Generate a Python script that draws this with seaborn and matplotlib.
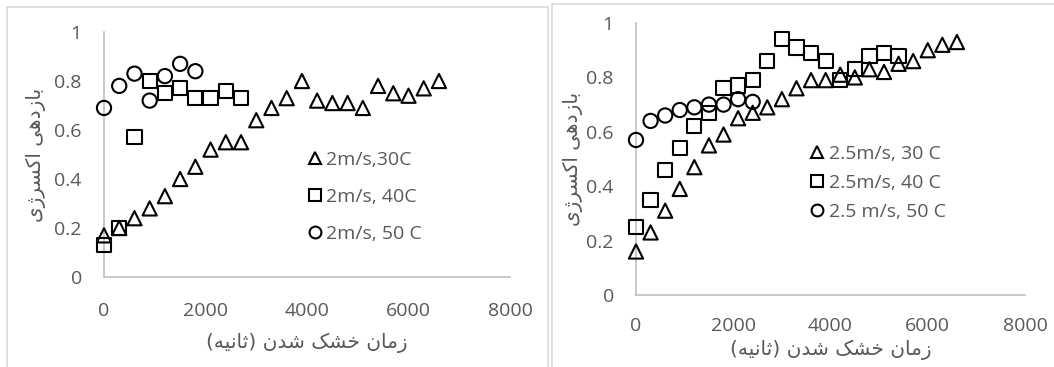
import matplotlib
matplotlib.use("Agg")
import matplotlib.pyplot as plt
from matplotlib.patches import Rectangle
from matplotlib.lines import Line2D
import seaborn as sns
import pandas as pd

# ---- data -------------------------------------------------------------
time_long = [0, 300, 600, 900, 1200, 1500, 1800, 2100, 2400, 2700, 3000, 3300,
             3600, 3900, 4200, 4500, 4800, 5100, 5400, 5700, 6000, 6300, 6600]

# air speed 2 m/s
eff_2_30 = [0.17, 0.20, 0.24, 0.28, 0.33, 0.40, 0.45, 0.52, 0.55, 0.55, 0.64, 0.69,
            0.73, 0.80, 0.72, 0.71, 0.71, 0.69, 0.78, 0.75, 0.74, 0.77, 0.80]
time_2_40 = [0, 300, 600, 900, 1200, 1500, 1800, 2100, 2400, 2700]
eff_2_40 = [0.13, 0.20, 0.57, 0.80, 0.75, 0.77, 0.73, 0.73, 0.76, 0.73]
time_2_50 = [0, 300, 600, 900, 1200, 1500, 1800]
eff_2_50 = [0.69, 0.78, 0.83, 0.72, 0.82, 0.87, 0.84]

# air speed 2.5 m/s
eff_25_30 = [0.16, 0.23, 0.31, 0.39, 0.47, 0.55, 0.59, 0.65, 0.67, 0.69, 0.72, 0.76,
             0.79, 0.79, 0.81, 0.80, 0.83, 0.82, 0.85, 0.86, 0.90, 0.92, 0.93]
time_25_40 = [0, 300, 600, 900, 1200, 1500, 1800, 2100, 2400, 2700, 3000, 3300,
              3600, 3900, 4200, 4500, 4800, 5100, 5400]
eff_25_40 = [0.25, 0.35, 0.46, 0.54, 0.62, 0.67, 0.76, 0.77, 0.79, 0.86, 0.94, 0.91,
             0.89, 0.86, 0.79, 0.83, 0.88, 0.89, 0.88]
time_25_50 = [0, 300, 600, 900, 1200, 1500, 1800, 2100, 2400]
eff_25_50 = [0.57, 0.64, 0.66, 0.68, 0.69, 0.70, 0.70, 0.72, 0.71]

labels_left = ["2m/s,30C", "2m/s, 40C", "2m/s, 50 C"]
labels_right = ["2.5m/s, 30 C", "2.5m/s, 40 C", "2.5 m/s, 50 C"]
x_ticks = [0, 2000, 4000, 6000, 8000]
y_ticks = [0, 0.2, 0.4, 0.6, 0.8, 1]
x_title = "زمان خشک شدن (ثانیه)"
y_title = "بازدهی اکسرژی"

# ---- simple Persian shaping (presentation forms + visual order) -------
FORMS = {
    'ا': ('\uFE8D', '\uFE8E', None, None),
    'ب': ('\uFE8F', '\uFE90', '\uFE91', '\uFE92'),
    'ث': ('\uFE99', '\uFE9A', '\uFE9B', '\uFE9C'),
    'خ': ('\uFEA5', '\uFEA6', '\uFEA7', '\uFEA8'),
    'د': ('\uFEA9', '\uFEAA', None, None),
    'ر': ('\uFEAD', '\uFEAE', None, None),
    'ز': ('\uFEAF', '\uFEB0', None, None),
    'ژ': ('\uFB8A', '\uFB8B', None, None),
    'س': ('\uFEB1', '\uFEB2', '\uFEB3', '\uFEB4'),
    'ش': ('\uFEB5', '\uFEB6', '\uFEB7', '\uFEB8'),
    'ک': ('\uFB8E', '\uFB8F', '\uFB90', '\uFB91'),
    'م': ('\uFEE1', '\uFEE2', '\uFEE3', '\uFEE4'),
    'ن': ('\uFEE5', '\uFEE6', '\uFEE7', '\uFEE8'),
    'ه': ('\uFEE9', '\uFEEA', '\uFEEB', '\uFEEC'),
    'ی': ('\uFBFC', '\uFBFD', '\uFBFE', '\uFBFF'),
}


def shape(text):
    out = []
    for i, c in enumerate(text):
        if c not in FORMS:
            out.append(c)
            continue
        prev = text[i - 1] if i > 0 else ''
        nxt = text[i + 1] if i + 1 < len(text) else ''
        join_prev = prev in FORMS and FORMS[prev][2] is not None
        join_next = nxt in FORMS and FORMS[c][2] is not None
        iso, fin, ini, med = FORMS[c]
        if join_prev and join_next:
            g = med
        elif join_prev:
            g = fin
        elif join_next:
            g = ini
        else:
            g = iso
        out.append(g)
    visual = ''.join(reversed(out))
    return visual.translate(str.maketrans('()', ')('))


# ---- style ------------------------------------------------------------
sns.set_theme(style="white")
plt.rcParams['font.family'] = ['Open Sans', 'DejaVu Sans']
TXT = '#595959'
AXC = '#BFBFBF'

fig = plt.figure(figsize=(10.54, 3.67), dpi=100)

# chart-area frames
fig.add_artist(Rectangle((7 / 1054, -0.05), (548 - 7) / 1054, 1.05 - 7 / 367,
                         transform=fig.transFigure, fill=False, ec='#D9D9D9', lw=1.2))
fig.add_artist(Rectangle((552 / 1054, -0.05), 0.5, 1.05 - 4 / 367,
                         transform=fig.transFigure, fill=False, ec='#D9D9D9', lw=1.2))

ax1 = fig.add_axes([104 / 1054, 90 / 367, 406 / 1054, 245 / 367])
ax2 = fig.add_axes([636 / 1054, 72 / 367, 389 / 1054, 272 / 367])

markers = ['^', 's', 'o']
panels = [
    dict(ax=ax1,
         series=[(time_long, eff_2_30), (time_2_40, eff_2_40), (time_2_50, eff_2_50)],
         labels=labels_left, anchor=(0.50, 0.515), spacing=0.97,
         xpad=18, xlabelpad=9, ylabelpad=6),
    dict(ax=ax2,
         series=[(time_long, eff_25_30), (time_25_40, eff_25_40), (time_25_50, eff_25_50)],
         labels=labels_right, anchor=(0.445, 0.552), spacing=0.57,
         xpad=16, xlabelpad=3, ylabelpad=2.5),
]

for p in panels:
    ax = p['ax']
    for (t, e), m in zip(p['series'], markers):
        df = pd.DataFrame({'t': t, 'e': e})
        sns.scatterplot(data=df, x='t', y='e', marker=m, s=105, ax=ax,
                        legend=False, clip_on=False, zorder=3)
        coll = ax.collections[-1]
        coll.set_facecolor('none')
        coll.set_edgecolor('black')
        coll.set_linewidth(1.5)

    ax.set_xlim(0, 8000)
    ax.set_ylim(0, 1)
    ax.set_xticks(x_ticks)
    ax.set_xticklabels([f"{v}" for v in x_ticks])
    ax.set_yticks(y_ticks)
    ax.set_yticklabels([f"{v:g}" for v in y_ticks])
    ax.tick_params(length=0, colors=TXT, labelsize=14)
    ax.tick_params(axis='y', pad=16)
    ax.tick_params(axis='x', pad=p['xpad'])
    for side in ['top', 'right']:
        ax.spines[side].set_visible(False)
    for side in ['left', 'bottom']:
        ax.spines[side].set_color(AXC)
        ax.spines[side].set_linewidth(1.2)
    ax.set_facecolor('none')
    ax.set_xlabel(shape(x_title), family=['DejaVu Sans'], fontsize=14.5, color=TXT,
                  labelpad=p['xlabelpad'])
    ax.set_ylabel(shape(y_title), family=['DejaVu Sans'], fontsize=14.5, color=TXT,
                  labelpad=p['ylabelpad'])

    handles = [Line2D([], [], linestyle='none', marker=m, markersize=8.5,
                      markerfacecolor='none', markeredgecolor='black',
                      markeredgewidth=1.5) for m in markers]
    leg = ax.legend(handles, p['labels'], loc='upper left', bbox_to_anchor=p['anchor'],
                    frameon=False, fontsize=14, handlelength=0.8,
                    handletextpad=0.2, labelspacing=p['spacing'], borderpad=0,
                    borderaxespad=0)
    for txt in leg.get_texts():
        txt.set_color(TXT)

fig.savefig("out.png", dpi=100)
